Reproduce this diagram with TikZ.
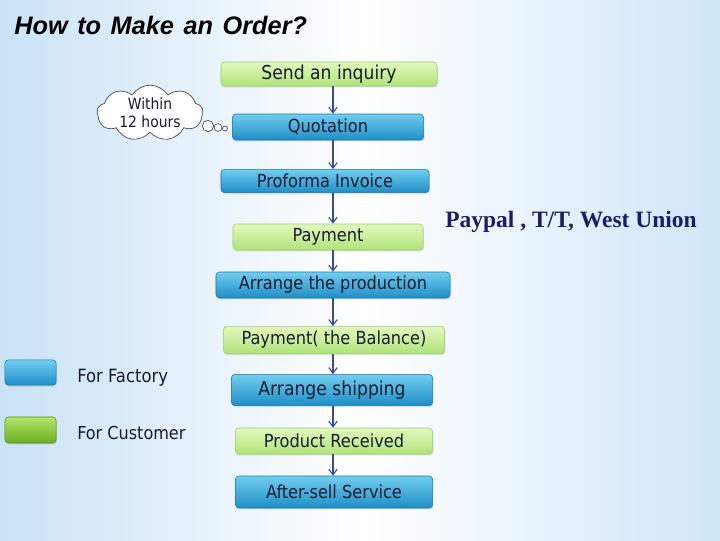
\documentclass[tikz,border=0pt]{standalone}
\usepackage{fontspec}
\setmainfont{DejaVu Sans Condensed}
\newfontfamily\titlefont{Liberation Sans}
\newfontfamily\payfont{Liberation Serif}
\usetikzlibrary{arrows.meta,shapes.symbols,shadows}

\definecolor{bgblue}{HTML}{C9E2F6}
\definecolor{bgblueR}{HTML}{CFE6F8}
\definecolor{facTop}{HTML}{72CDF0}
\definecolor{facBot}{HTML}{1E8EC6}
\definecolor{facLine}{HTML}{1A78AE}
\definecolor{cusTop}{HTML}{E2F8BE}
\definecolor{cusBot}{HTML}{B0E47A}
\definecolor{cusLine}{HTML}{9CCF66}
\definecolor{legTop}{HTML}{B2E468}
\definecolor{legBot}{HTML}{6CAE22}
\definecolor{arrowblue}{HTML}{3B4A9B}
\definecolor{boxtext}{HTML}{1B1B30}
\definecolor{paynavy}{HTML}{1C1C6C}

\begin{document}
\begin{tikzpicture}[x=0.025cm,y=-0.025cm,
		box/.style={rounded corners=2.5pt,inner sep=0pt,text=boxtext,
			font=\fontsize{12.8}{15}\selectfont,
			drop shadow={opacity=0.25,shadow xshift=0.6pt,shadow yshift=-1pt}},
		bigtext/.style={font=\fontsize{13.6}{15}\selectfont},
		factory/.style={box,top color=facTop,bottom color=facBot,draw=facLine,line width=0.4pt},
		customer/.style={box,top color=cusTop,bottom color=cusBot,draw=cusLine,line width=0.4pt},
		legcus/.style={box,top color=legTop,bottom color=legBot,draw=legBot!80!black,line width=0.4pt},
		arrow/.style={-{Straight Barb[length=4pt,width=6pt]},arrowblue,line width=0.8pt},
		bubble/.style={circle,draw=black!70,fill=white,line width=0.5pt,inner sep=0pt},
		legtext/.style={anchor=west,inner sep=0pt,text=boxtext,font=\fontsize{13}{15}\selectfont}
	]
	% fond
	\fill[left color=bgblue,right color=bgblueR,middle color=white] (0,0) rectangle (720,540);
	\useasboundingbox (0,0) rectangle (720,540);

	% titre
	\node[anchor=west,inner sep=0pt,font=\titlefont\fontsize{18}{20}\selectfont\bfseries\itshape] (title) at (14,25)
		{How\hspace{0.1em} to\hspace{0.1em} Make\hspace{0.1em} an\hspace{0.1em} Order?};

	% etapes
	\node[customer,bigtext,minimum width=5.4cm,minimum height=0.6cm] (inquiry) at (329,74) {Send an inquiry};
	\node[factory,minimum width=4.78cm,minimum height=0.65cm] (quote) at (328,127) {Quotation};
	\node[factory,minimum width=5.2cm,minimum height=0.58cm] (proforma) at (325,181) {Proforma Invoice};
	\node[customer,minimum width=4.75cm,minimum height=0.65cm] (pay) at (328,237) {Payment};
	\node[factory,minimum width=5.85cm,minimum height=0.65cm] (production) at (333,285) {Arrange the production};
	\node[customer,minimum width=5.53cm,minimum height=0.68cm] (balance) at (334,340) {Payment( the Balance)};
	\node[factory,bigtext,minimum width=5.03cm,minimum height=0.78cm] (shipping) at (332,390) {Arrange shipping};
	\node[customer,minimum width=4.93cm,minimum height=0.65cm] (received) at (334,441) {Product Received};
	\node[factory,minimum width=4.93cm,minimum height=0.8cm] (service) at (334,492) {After-sell Service};

	% fleches
	\coordinate (spine) at (333,0);
	\foreach \a/\b in {inquiry/quote,quote/proforma,proforma/pay,pay/production,production/balance,
		balance/shipping,shipping/received,received/service}
		\draw[arrow] (\a.south -| spine) -- (\b.north -| spine);

	% nuage
	\node[cloud,cloud puffs=9,cloud puff arc=115,aspect=2.1,draw=black!70,fill=white,line width=0.5pt,
		minimum width=2.65cm,minimum height=1.2cm,inner sep=0pt,align=center,
		font=\fontsize{11}{12.5}\selectfont,text=boxtext] (cloud) at (150,113) {Within\\12 hours};
	\node[bubble,minimum size=8pt] (b1) at (208,126) {};
	\node[bubble,minimum size=5.5pt] (b2) at (218,127.5) {};
	\node[bubble,minimum size=3.5pt] (b3) at (225,128.5) {};

	% paiement
	\node[anchor=base west,inner sep=0pt,text=paynavy,font=\payfont\fontsize{16.7}{19}\selectfont\bfseries] (payway) at (445,227)
		{Paypal , T/T, West Union};

	% legende
	\node[factory,minimum width=1.28cm,minimum height=0.63cm] (legfac) at (30.5,372.5) {};
	\node[legcus,minimum width=1.28cm,minimum height=0.65cm] (legcus) at (30.5,430) {};
	\node[legtext] (legfactext) at (77,378) {For Factory};
	\node[legtext,font=\fontsize{12.7}{15}\selectfont] (legcustext) at (77,433) {For Customer};
\end{tikzpicture}
\end{document}
